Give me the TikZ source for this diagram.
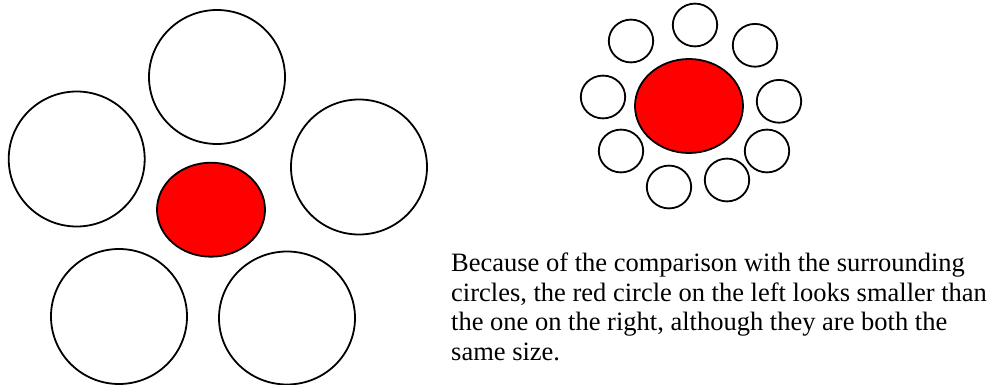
\documentclass[tikz,border=0pt]{standalone}
\usepackage{fontspec}
\setmainfont{Liberation Serif}
\begin{document}
\begin{tikzpicture}[x=1pt,y=-1pt,
  ring/.style={draw=black,line width=1.8pt,fill=white},
  core/.style={draw=black,line width=1.8pt,fill=red}]
\useasboundingbox (0,0) rectangle (994,385);
% left group
\draw[ring] (217,77) ellipse (68 and 67);
\draw[ring] (76.7,159) ellipse (68 and 67.5);
\draw[ring] (359,167) ellipse (68 and 67.5);
\draw[ring] (119,316.5) ellipse (68 and 67.5);
\draw[ring] (287,318) ellipse (68 and 66.5);
\draw[core] (211,209.7) ellipse (54 and 47);
% right group
\draw[core] (689,106) ellipse (54 and 47);
\foreach \cx/\cy in {695/25, 631/41, 755/45.3, 603/97, 779/101.3, 621/151, 767/151, 669/187, 727/180}
  \draw[ring] (\cx,\cy) ellipse (22.2 and 21.4);
\node[anchor=base west,inner sep=0pt,align=left,font=\rmfamily\fontsize{26.5}{29.4}\selectfont] (txt) at (451,360)
  {Because of the comparison with the surrounding\\circles, the red circle on the left looks smaller than\\the one on the right, although they are both the\\same size.};
\end{tikzpicture}
\end{document}
